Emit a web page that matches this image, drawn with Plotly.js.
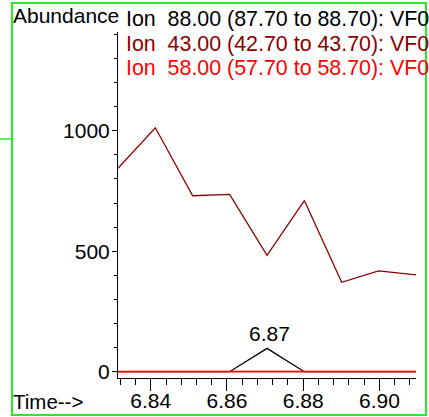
<!DOCTYPE html>
<html><head><meta charset="utf-8">
<script src="https://cdn.plot.ly/plotly-3.0.1.min.js"></script>
<style>html,body{margin:0;padding:0;background:#fff;overflow:hidden}#chart{width:429px;height:417px}</style>
</head><body><div id="chart"></div>
<script>
// ---- data ----
const times = [6.8314, 6.8412, 6.8510, 6.8607, 6.8705, 6.8803, 6.8901, 6.8998, 6.9096];
const ion88 = [0, 0, 0, 0, 97, 0, 0, 0, 0];
const ion43 = [844, 1012, 730, 736, 483, 710, 371, 418, 402];
const ion58 = [0, 0, 0, 0, 0, 0, 0, 0, 0];
const ionMasses = [88, 43, 58];
const ionLow = [87.7, 42.7, 57.7];
const ionHigh = [88.7, 43.7, 58.7];
const fileTag = 'VF0';
const yLabel = 'Abundance';
const xLabel = 'Time-->';

// ---- styling / layout ----
const colors = ['#000000', '#8b0000', '#ff0000'];
const series = [ion88, ion43, ion58];
const W = 429, H = 417, L = 118, R = 13, T = 32, B = 39;
const pw = W - L - R, ph = H - T - B;
const px = x => (x - L) / pw;
const py = y => (H - B - y) / ph;
const font = 'Liberation Sans, Arial, sans-serif';
const fs = 21;

const traces = series.map((s, i) => ({
  x: times, y: s, type: 'scatter', mode: 'lines',
  line: {color: colors[i], width: i === 2 ? 1.8 : 1.3},
  hoverinfo: 'skip', showlegend: false
}));

const annotations = [];
ionMasses.forEach((m, i) => {
  annotations.push({
    xref: 'paper', yref: 'paper', x: px(124), y: py(19 + i * 24.5),
    xanchor: 'left', yanchor: 'middle', showarrow: false,
    text: 'Ion\u00a0 ' + m.toFixed(2) + ' (' + ionLow[i].toFixed(2) + ' to ' + ionHigh[i].toFixed(2) + '): ' + fileTag,
    font: {family: font, size: 21.4, color: colors[i]}
  });
});
annotations.push({xref: 'paper', yref: 'paper', x: px(11), y: py(15), xanchor: 'left', yanchor: 'middle',
  showarrow: false, text: yLabel, font: {family: font, size: fs, color: '#000'}});
annotations.push({xref: 'paper', yref: 'paper', x: px(11), y: py(401.5), xanchor: 'left', yanchor: 'middle',
  showarrow: false, text: xLabel, font: {family: font, size: 20.5, color: '#000'}});
// peak label
let pk = 0;
ion88.forEach((v, i) => { if (v > ion88[pk]) pk = i; });
annotations.push({x: times[pk], y: ion88[pk], xref: 'x', yref: 'y', xanchor: 'center', yanchor: 'bottom',
  showarrow: false, yshift: 1, xshift: 2, text: times[pk].toFixed(2), font: {family: font, size: fs, color: '#000'}});

const green = '#22ee22';
const shapes = [
  {type: 'rect', xref: 'paper', yref: 'paper', x0: px(12), x1: px(426), y0: py(415), y1: py(3),
    line: {color: green, width: 2}, fillcolor: 'rgba(0,0,0,0)', layer: 'above'},
  {type: 'line', xref: 'paper', yref: 'paper', x0: px(0), x1: px(12), y0: py(139), y1: py(139),
    line: {color: green, width: 1.5}}
];

const layout = {
  width: W, height: H,
  margin: {l: L, r: R, t: T, b: B, pad: 0},
  paper_bgcolor: '#fff', plot_bgcolor: '#fff',
  showlegend: false,
  font: {family: font, size: fs, color: '#000'},
  xaxis: {
    range: [6.8314, 6.9096], showgrid: false, zeroline: false,
    showline: true, linecolor: '#000', linewidth: 1,
    tickmode: 'linear', tick0: 6.84, dtick: 0.02, tickformat: '.2f',
    ticks: 'outside', ticklen: 12, tickwidth: 1, tickcolor: '#000',
    ticklabelstandoff: -8,
    tickfont: {family: font, size: fs, color: '#000'},
    minor: {tick0: 6.84, dtick: 0.004, ticks: 'outside', ticklen: 6, tickwidth: 1, tickcolor: '#000', showgrid: false}
  },
  yaxis: {
    range: [-26.1, 1409.5], showgrid: false, zeroline: false,
    showline: true, linecolor: '#000', linewidth: 1,
    tickmode: 'linear', tick0: 0, dtick: 500,
    ticks: 'outside', ticklen: 5, tickwidth: 1, tickcolor: '#000',
    ticklabelstandoff: -2,
    tickfont: {family: font, size: fs, color: '#000'},
    minor: {tick0: 0, dtick: 100, ticks: 'outside', ticklen: 3, tickwidth: 1, tickcolor: '#000', showgrid: false}
  },
  annotations: annotations,
  shapes: shapes
};

Plotly.newPlot('chart', traces, layout, {staticPlot: true, displayModeBar: false});
</script>
</body></html>
